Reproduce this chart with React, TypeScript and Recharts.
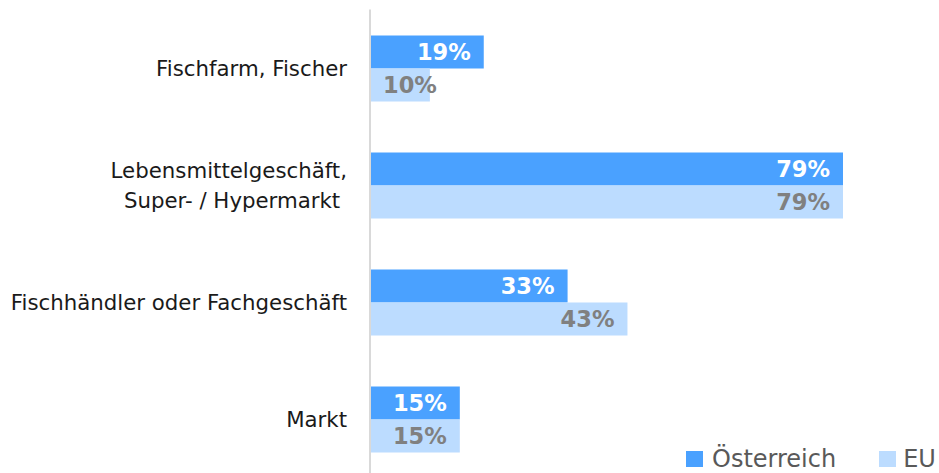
import { Bar, BarChart, LabelList, XAxis, YAxis } from 'recharts';

const categories = [
  'Fischfarm, Fischer',
  'Lebensmittelgeschäft,\nSuper- / Hypermarkt\u00a0',
  'Fischhändler oder Fachgeschäft',
  'Markt',
];
const austria = [19, 79, 33, 15];
const eu = [10, 79, 43, 15];
const seriesNames = ['Österreich', 'EU'];

const AT_COLOR = '#4aa1ff';
const EU_COLOR = '#bcdcff';
const FONT = '"DejaVu Sans", sans-serif';

const data = categories.map((name, i) => ({ name, at: austria[i], eu: eu[i] }));

function CategoryTick(props: any) {
  const { x, y, payload } = props;
  const lines = String(payload.value).split('\n');
  const lineH = 30;
  const first = -((lines.length - 1) / 2) * lineH;
  const tx = x - 15;
  return (
    <text
      x={tx}
      y={y}
      textAnchor="end"
      fill="#1a1a1a"
      style={{ fontFamily: FONT, fontSize: 21.3, whiteSpace: 'pre' }}
    >
      {lines.map((l, i) => (
        <tspan key={i} x={tx} dy={i === 0 ? first + 7.5 : lineH}>
          {l}
        </tspan>
      ))}
    </text>
  );
}

function valueLabel(color: string) {
  return (props: any) => {
    const { x, y, width, height, value } = props;
    const textW = 54;
    const fits = width >= textW + 26;
    return (
      <text
        x={fits ? x + width - 13 : x + 13}
        y={y + height / 2}
        textAnchor={fits ? 'end' : 'start'}
        dominantBaseline="central"
        fill={color}
        style={{ fontFamily: FONT, fontSize: 22.5, fontWeight: 700 }}
      >
        {`${value}%`}
      </text>
    );
  };
}

export default function App() {
  return (
    <div
      style={{
        position: 'absolute',
        left: 0,
        top: 0,
        width: 939,
        height: 473,
        overflow: 'hidden',
        background: '#fff',
      }}
    >
      <BarChart
        width={939}
        height={490}
        data={data}
        layout="vertical"
        margin={{ top: 9.5, right: 96, bottom: 12.5, left: 0 }}
        barSize={33}
        barGap={0}
      >
        <XAxis type="number" domain={[0, 79]} hide />
        <YAxis
          type="category"
          dataKey="name"
          width={370}
          axisLine={{ stroke: '#d9d9d9', strokeWidth: 2 }}
          tickLine={false}
          tick={<CategoryTick />}
          interval={0}
        />
        <Bar dataKey="at" name={seriesNames[0]} fill={AT_COLOR} isAnimationActive={false}>
          <LabelList dataKey="at" content={valueLabel('#ffffff')} />
        </Bar>
        <Bar dataKey="eu" name={seriesNames[1]} fill={EU_COLOR} isAnimationActive={false}>
          <LabelList dataKey="eu" content={valueLabel('#808080')} />
        </Bar>
      </BarChart>
      <div
        style={{
          position: 'absolute',
          left: 686,
          top: 445,
          display: 'flex',
          alignItems: 'center',
          fontFamily: FONT,
          fontSize: 24,
          color: '#595959',
          whiteSpace: 'nowrap',
        }}
      >
        <span style={{ width: 17, height: 16, background: AT_COLOR, marginRight: 9 }} />
        <span>{seriesNames[0]}</span>
        <span style={{ width: 17, height: 16, background: EU_COLOR, marginLeft: 43, marginRight: 7 }} />
        <span>{seriesNames[1]}</span>
      </div>
    </div>
  );
}
